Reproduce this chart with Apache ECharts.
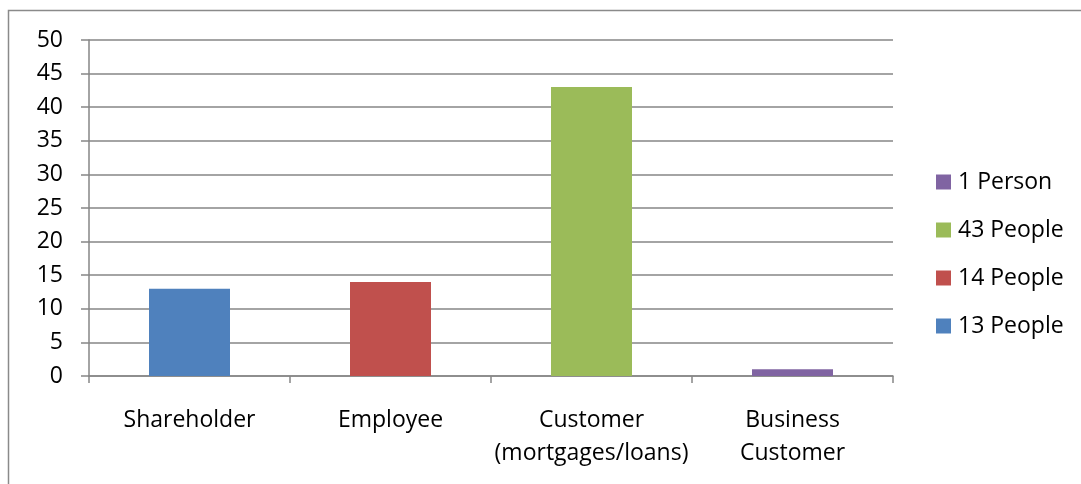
<!DOCTYPE html>
<html>
<head>
<meta charset="utf-8">
<script src="https://cdn.jsdelivr.net/npm/echarts@6/dist/echarts.min.js"></script>
<style>
  html, body { margin: 0; padding: 0; background: #fff; }
  #chart { width: 1081px; height: 484px; }
</style>
</head>
<body>
<div id="chart"></div>
<script>
// Respondent groups and counts
const categories = ['Shareholder', 'Employee', 'Customer\n(mortgages/loans)', 'Business\nCustomer'];
const seriesNames = ['13 People', '14 People', '43 People', '1 Person'];
const counts = [13, 14, 43, 1];
const colors = ['#4F81BD', '#C0504D', '#9BBB59', '#8064A2'];
const legendOrder = ['1 Person', '43 People', '14 People', '13 People'];

const FONT = 'Open Sans';
const GRAY = '#868686';

// One series per group, each holding a single value in its own category
const series = seriesNames.map((name, i) => ({
  name,
  type: 'bar',
  stack: 'all',
  barWidth: 81,
  itemStyle: { color: colors[i] },
  data: categories.map((c, j) => (j === i ? counts[i] : '-'))
}));

const chart = echarts.init(document.getElementById('chart'));
chart.setOption({
  animation: false,
  textStyle: { fontFamily: FONT },
  graphic: [{
    type: 'rect',
    shape: { x: 8.5, y: 10.5, width: 1100, height: 500 },
    style: { fill: 'none', stroke: '#8a8a8a', lineWidth: 1.5 },
    silent: true
  }],
  grid: { left: 89, right: 188, top: 40, bottom: 108 },
  legend: {
    orient: 'vertical',
    left: 936,
    top: 167,
    padding: 0,
    itemWidth: 15,
    itemHeight: 15,
    itemGap: 18,
    icon: 'rect',
    data: legendOrder,
    textStyle: { fontFamily: FONT, fontSize: 23, color: '#000', lineHeight: 30, padding: [0, 0, 0, 2] }
  },
  xAxis: {
    type: 'category',
    data: categories,
    axisLine: { lineStyle: { color: GRAY, width: 1.5 } },
    axisTick: { show: true, length: 7, lineStyle: { color: GRAY, width: 1.5 } },
    axisLabel: { interval: 0, fontFamily: FONT, fontSize: 23, color: '#000', margin: 28, lineHeight: 33 }
  },
  yAxis: {
    type: 'value',
    min: 0,
    max: 50,
    interval: 5,
    axisLine: { show: true, lineStyle: { color: GRAY, width: 1.5 } },
    axisTick: { show: true, length: 8, lineStyle: { color: GRAY, width: 1.5 } },
    splitLine: { lineStyle: { color: GRAY, width: 1.5 } },
    axisLabel: { fontFamily: FONT, fontSize: 23, color: '#000', margin: 26 }
  },
  series
});
</script>
</body>
</html>
